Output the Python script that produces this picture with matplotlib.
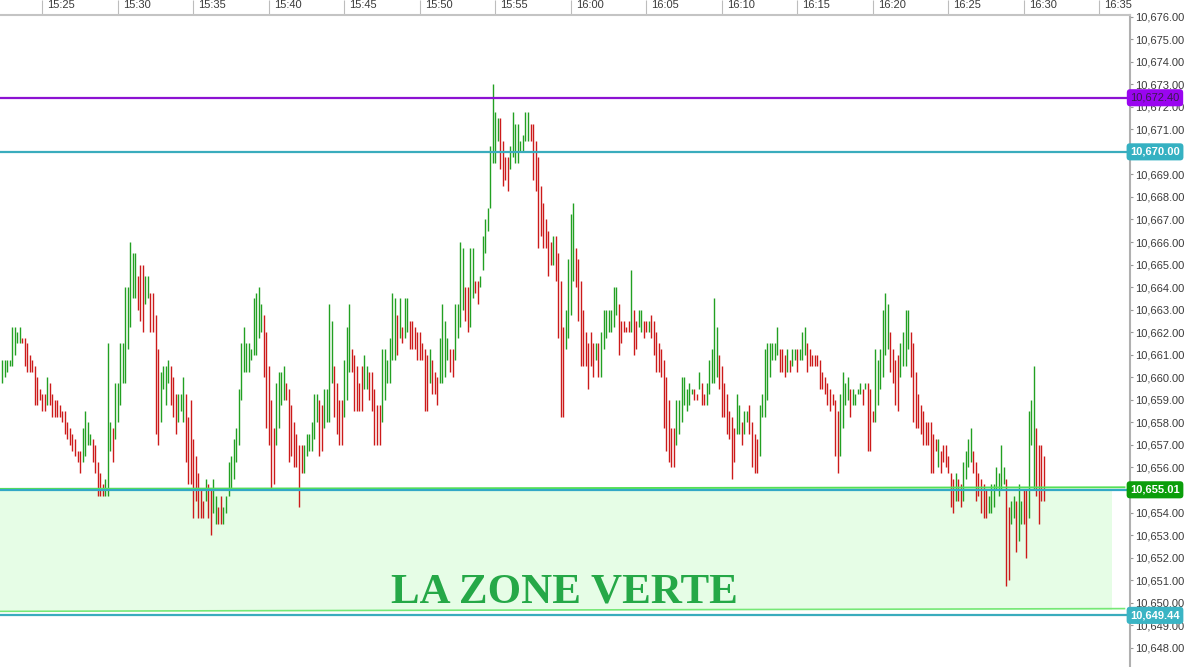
import matplotlib
matplotlib.use("Agg")
import matplotlib.pyplot as plt
from matplotlib.patches import Rectangle
import numpy as np

# 10-second bars, first bar at 15:22:20
first_bar = "15:22:20"
bar_seconds = 10

high_a = [10660.75, 10660.75, 10660.75, 10660.75, 10662.25, 10662.25, 10662.0, 10662.25, 10661.75, 10661.75,
          10661.5, 10661.0, 10660.75, 10660.5, 10660.0, 10659.5, 10659.25, 10659.25, 10660.0, 10659.75,
          10659.25, 10659.0, 10659.0, 10658.75, 10658.5, 10658.5, 10658.0, 10657.75, 10657.5, 10657.25,
          10656.75, 10656.75, 10657.75, 10658.5, 10658.0, 10657.5, 10657.25, 10657.0, 10656.25, 10655.75,
          10655.25, 10655.5, 10661.5, 10658.0, 10657.75, 10659.75, 10659.75, 10661.5, 10661.5, 10664.0,
          10664.0, 10666.0, 10665.5, 10665.5, 10664.5, 10665.0, 10665.0, 10664.5, 10664.5, 10663.75,
          10663.75, 10662.75, 10661.25, 10660.25, 10660.5, 10660.5, 10660.75, 10660.5, 10660.0, 10659.25,
          10659.25, 10659.25, 10660.0, 10659.25, 10658.25, 10659.0, 10657.25, 10656.5, 10655.75, 10655.0,
          10654.5, 10655.5, 10655.25, 10655.0, 10655.5, 10654.75, 10654.25, 10654.75, 10654.25, 10654.75,
          10656.25, 10656.5, 10657.25, 10657.75, 10659.5, 10661.5, 10662.25, 10661.5, 10661.5, 10661.25,
          10663.5]
low_a = [10659.75, 10660.0, 10660.25, 10660.5, 10660.5, 10661.0, 10661.5, 10661.5, 10661.5, 10660.5,
         10660.25, 10660.25, 10660.25, 10658.75, 10658.75, 10659.0, 10658.5, 10658.5, 10658.75, 10658.75,
         10658.25, 10658.25, 10658.25, 10658.25, 10658.0, 10657.5, 10657.25, 10657.0, 10656.75, 10656.5,
         10656.25, 10655.75, 10656.25, 10656.5, 10657.0, 10657.0, 10656.25, 10655.75, 10654.75, 10654.75,
         10654.75, 10654.75, 10654.75, 10656.75, 10656.25, 10657.25, 10658.0, 10658.75, 10659.75, 10659.75,
         10661.25, 10662.25, 10663.5, 10663.5, 10663.0, 10662.5, 10662.0, 10663.25, 10663.5, 10662.0,
         10662.0, 10657.5, 10657.0, 10658.0, 10659.5, 10658.75, 10659.75, 10658.75, 10658.25, 10657.5,
         10658.0, 10658.5, 10658.0, 10656.25, 10655.25, 10655.25, 10653.75, 10654.5, 10653.75, 10653.75,
         10653.75, 10654.5, 10653.75, 10653.0, 10654.0, 10653.5, 10653.5, 10653.5, 10653.5, 10654.0,
         10654.75, 10655.0, 10655.5, 10656.25, 10657.0, 10659.0, 10660.25, 10660.25, 10660.25, 10660.75,
         10661.0]
dir_a = ("gggggggg" "rrrrrrrrrr" "g" "rrrrrrrrrrrrr" "gggg" "rrrrr" "ggg" "r" "ggggggggg" "rrr"
         "gg" "rrrr" "gggg" "rrr" "ggg" "rrrrrrrr" "g" "rr" "gg" "rr" "ggggggggggggg")

high_b = [10663.75, 10664.0, 10663.25, 10662.75, 10662.0, 10660.5, 10659.0, 10657.75, 10659.75, 10660.25,
          10660.25, 10660.5, 10659.75, 10659.5, 10658.75, 10658.0, 10657.5, 10657.0, 10657.0, 10657.0,
          10657.5, 10657.5, 10658.0, 10659.25, 10659.25, 10659.0, 10658.75, 10659.5, 10659.5, 10663.25,
          10662.5, 10660.5, 10659.75, 10659.0, 10659.0, 10660.75, 10662.25, 10663.25, 10661.25, 10661.0,
          10660.5, 10659.75, 10660.5, 10661.0, 10660.5, 10660.25, 10660.25, 10659.5, 10658.75, 10658.75,
          10661.25, 10661.25, 10660.75, 10661.75, 10663.75, 10663.5, 10662.75, 10663.5, 10662.25, 10663.5,
          10663.5, 10662.5, 10662.5, 10662.25, 10662.0, 10662.0, 10661.5, 10661.25, 10661.0, 10661.25,
          10660.75, 10660.25, 10660.0, 10661.75, 10663.25, 10662.5, 10661.75, 10661.25, 10661.25, 10663.25,
          10663.25, 10666.0, 10665.75, 10664.0, 10664.0, 10665.75, 10665.75, 10664.25, 10664.25, 10664.5,
          10666.25, 10667.0, 10667.5, 10670.25, 10673.0]
low_b = [10661.0, 10661.75, 10662.0, 10660.0, 10657.75, 10657.0, 10655.0, 10655.25, 10657.0, 10657.75,
         10658.75, 10659.0, 10659.0, 10656.25, 10656.5, 10656.0, 10656.0, 10654.25, 10655.75, 10655.75,
         10656.5, 10656.75, 10656.75, 10657.25, 10658.0, 10656.5, 10656.75, 10657.75, 10658.0, 10658.0,
         10659.75, 10658.25, 10657.5, 10657.0, 10657.0, 10658.25, 10659.0, 10660.25, 10660.25, 10658.5,
         10658.5, 10658.5, 10658.5, 10659.5, 10659.5, 10659.0, 10658.5, 10657.0, 10657.0, 10657.0,
         10658.0, 10659.0, 10659.75, 10659.75, 10660.75, 10660.75, 10661.0, 10661.75, 10661.5, 10661.75,
         10662.0, 10661.25, 10661.25, 10661.25, 10660.75, 10660.75, 10660.75, 10658.5, 10658.5, 10659.75,
         10659.25, 10659.25, 10658.75, 10659.75, 10659.75, 10660.0, 10660.75, 10660.25, 10660.0, 10660.75,
         10661.75, 10662.25, 10663.0, 10662.5, 10662.0, 10662.25, 10663.5, 10663.75, 10663.25, 10664.0,
         10664.75, 10665.5, 10666.5, 10667.5, 10669.5]
dir_b = ("ggg" "rrrrr" "gggg" "rrrrrrr" "gggggg" "rr" "gggg" "rrrr" "ggg" "rrrrr" "gg" "rrrrr"
         "gggggg" "r" "g" "r" "gg" "rrrrrrrr" "g" "rrr" "gggg" "rr" "gggg" "rr" "gg" "rr" "gggggg")

high_c = [10671.75, 10671.5, 10671.5, 10670.5, 10669.75, 10669.75, 10670.25, 10671.75, 10671.25, 10671.25,
          10670.5, 10670.75, 10671.75, 10671.75, 10671.25, 10671.25]
low_c = [10669.5, 10670.5, 10669.25, 10668.5, 10668.75, 10668.25, 10669.25, 10669.75, 10669.5, 10669.5,
         10670.0, 10670.0, 10670.5, 10670.5, 10670.5, 10668.75]
dir_c = "gg" "rrrr" "gggggggg" "rr"

high_d = [10670.5, 10669.75, 10668.5, 10667.75, 10667.0, 10666.5, 10666.0, 10666.25, 10666.25, 10665.5,
          10664.25, 10662.25, 10663.0, 10665.25, 10667.25, 10667.75, 10665.75, 10665.25, 10664.25, 10663.0,
          10662.0, 10661.5, 10662.0, 10661.5, 10661.5, 10661.5, 10662.0, 10663.0, 10663.0, 10663.0,
          10663.0, 10664.0, 10664.0, 10663.25, 10662.5, 10662.5, 10662.25, 10662.5, 10664.75, 10663.0,
          10662.5, 10663.0, 10663.0, 10662.5, 10662.5, 10662.5, 10662.75, 10662.5, 10662.0, 10661.5,
          10661.25, 10660.75, 10660.0, 10659.0, 10657.75, 10657.75, 10659.0, 10659.0, 10660.0, 10660.0,
          10659.5, 10659.75, 10659.5, 10659.5, 10659.25, 10660.25, 10659.75, 10659.25, 10659.75, 10660.75,
          10661.25, 10663.5, 10662.25, 10661.0, 10660.5, 10659.75, 10659.25, 10658.5, 10658.25, 10657.75,
          10659.25, 10658.75, 10658.0, 10658.5, 10658.5, 10658.75, 10658.0, 10657.5, 10657.25, 10658.75,
          10659.25, 10661.25, 10661.5, 10661.5, 10661.5, 10661.5, 10662.25, 10661.25]
low_d = [10668.25, 10665.75, 10666.25, 10665.75, 10665.75, 10664.5, 10665.0, 10665.0, 10664.25, 10661.75,
         10658.25, 10658.25, 10661.25, 10661.75, 10662.75, 10664.25, 10664.0, 10662.5, 10660.5, 10660.5,
         10660.5, 10659.5, 10660.5, 10660.0, 10660.75, 10660.0, 10660.0, 10661.25, 10661.75, 10662.0,
         10662.0, 10662.25, 10662.75, 10661.0, 10661.5, 10662.0, 10662.0, 10662.0, 10662.0, 10661.0,
         10661.25, 10662.25, 10662.0, 10661.75, 10662.0, 10662.0, 10661.75, 10661.0, 10660.25, 10660.25,
         10660.0, 10657.75, 10656.75, 10656.25, 10656.0, 10656.0, 10657.0, 10657.5, 10658.0, 10658.75,
         10658.5, 10658.75, 10659.25, 10659.0, 10659.0, 10659.5, 10658.75, 10658.75, 10658.75, 10659.25,
         10659.75, 10659.75, 10660.0, 10659.5, 10658.25, 10658.25, 10657.5, 10657.25, 10655.5, 10656.25,
         10657.5, 10657.5, 10657.0, 10657.5, 10658.0, 10657.5, 10656.0, 10655.75, 10655.75, 10656.5,
         10658.25, 10658.25, 10659.0, 10660.0, 10660.75, 10660.75, 10661.0, 10660.25]
dir_d = ("rrrrrrr" "g" "rrrr" "gggg" "rrrrrrrr" "g" "r" "ggggggg" "rrrrr" "g" "rr" "gg" "rr" "g"
         "rrrrrrrrrr" "ggggggg" "rr" "g" "rr" "ggggg" "rrrrrrr" "gg" "r" "gg" "rrrr" "gggggggg" "r")

high_e = [10661.25, 10661.0, 10661.25, 10660.75, 10661.25, 10661.25, 10661.25, 10661.25, 10662.0, 10662.25,
          10661.5, 10661.25, 10661.0, 10661.0, 10661.0, 10660.75, 10660.25, 10660.0, 10659.75, 10659.5,
          10659.25, 10659.0, 10658.5, 10659.25, 10660.25, 10659.75, 10660.0, 10659.5, 10659.5, 10659.25,
          10659.5, 10659.75, 10659.5, 10659.75, 10659.75, 10659.5, 10658.5, 10661.25, 10660.75, 10661.25,
          10663.0, 10663.75, 10663.25, 10662.0, 10661.25, 10660.75, 10661.0, 10661.5, 10662.0, 10663.0,
          10663.0, 10662.0, 10661.5, 10660.25, 10659.25, 10658.75, 10658.5, 10658.0, 10658.0, 10658.0,
          10657.5, 10657.25, 10657.25, 10656.75, 10657.0, 10657.0, 10656.5, 10655.75, 10655.5, 10655.75,
          10655.5, 10655.25, 10656.25, 10656.75, 10657.25, 10657.75, 10656.75, 10656.25, 10655.75, 10655.5,
          10655.25, 10655.0, 10654.75, 10655.25, 10655.25, 10656.0, 10655.75, 10657.0, 10656.0, 10655.5,
          10654.25, 10654.5, 10654.75, 10654.5, 10655.25, 10654.5, 10655.0, 10655.0, 10658.5, 10659.0,
          10660.5, 10657.75, 10657.0, 10657.0, 10656.5]
low_e = [10660.25, 10660.0, 10660.25, 10660.25, 10660.5, 10660.75, 10660.25, 10660.75, 10660.75, 10661.0,
         10660.25, 10660.5, 10660.5, 10660.5, 10660.5, 10659.5, 10659.5, 10659.25, 10658.75, 10658.5,
         10658.75, 10656.5, 10655.75, 10656.5, 10657.75, 10658.75, 10659.0, 10658.25, 10658.75, 10658.75,
         10659.25, 10659.25, 10658.75, 10659.5, 10656.75, 10656.75, 10658.0, 10658.0, 10658.75, 10659.5,
         10660.0, 10661.0, 10661.25, 10660.25, 10659.75, 10658.75, 10658.5, 10660.0, 10660.5, 10660.5,
         10661.25, 10660.0, 10658.0, 10657.75, 10657.75, 10657.5, 10657.0, 10657.0, 10657.0, 10655.75,
         10655.75, 10656.75, 10656.0, 10655.75, 10656.25, 10656.0, 10655.75, 10654.25, 10654.0, 10654.5,
         10654.5, 10654.25, 10654.5, 10655.5, 10656.0, 10656.25, 10655.75, 10654.5, 10654.75, 10654.0,
         10653.75, 10653.75, 10654.0, 10654.0, 10654.25, 10655.0, 10654.75, 10655.0, 10655.25, 10650.75,
         10651.0, 10653.5, 10653.75, 10652.25, 10652.75, 10653.5, 10653.5, 10652.0, 10653.75, 10657.0,
         10655.0, 10654.75, 10653.5, 10654.5, 10654.5]
dir_e = ("rrgrggrggg" "rrrrrrrrrrrrr" "gggg" "r" "gggg" "r" "g" "rrr" "gggggg" "rrrr" "gggg"
         "rrrrrrrrrrr" "g" "rrrrrr" "g" "rr" "gggg" "rrrrrr" "ggggggg" "rr" "gg" "r" "gg" "rr" "ggg" "rrrr")

# horizontal levels drawn on the chart
level_top = 10672.40
level_res = 10670.00
level_zone_hi = 10655.01
level_zone_lo = 10649.44
zone_label = "LA ZONE VERTE"

time_ticks = ["15:25", "15:30", "15:35", "15:40", "15:45", "15:50", "15:55", "16:00",
              "16:05", "16:10", "16:15", "16:20", "16:25", "16:30", "16:35"]
price_ticks = list(range(10648, 10677))

high = np.array(high_a + high_b + high_c + high_d + high_e)
low = np.array(low_a + low_b + low_c + low_d + low_e)
dirs = dir_a + dir_b + dir_c + dir_d + dir_e
n = min(len(high), len(low), len(dirs))
high, low, dirs = high[:n], low[:n], dirs[:n]


def to_min(s):
    p = [int(v) for v in s.split(":")]
    return p[0] * 60 + p[1] + (p[2] / 60 if len(p) > 2 else 0)


t = to_min(first_bar) + np.arange(n) * bar_seconds / 60.0

plt.rcParams['font.family'] = ['Liberation Sans', 'DejaVu Sans']

fig = plt.figure(figsize=(11.85, 6.67), dpi=100)
ax = fig.add_axes([0, 0, 1130 / 1185, 652 / 667])
x0, x1 = to_min("15:22:12"), to_min("16:37:02")
ax.set_xlim(x0, x1)
ax.set_ylim(10647.15, 10676.07)

# green zone
zone_end = to_min("16:35:50")
ax.add_patch(Rectangle((x0, 10649.68), zone_end - x0, 10655.03 - 10649.68,
                       facecolor='#e6fde6', edgecolor='none', zorder=0))
ax.plot([x0, to_min("16:36:40")], [10649.62, 10649.74], color='#76e876', lw=1.2, zorder=1)
ax.plot([x0, to_min("16:36:40")], [10655.05, 10655.12], color='#55e055', lw=1.4, zorder=3)

# bars
cols = ['#22a022' if d == 'g' else '#cc1a1a' for d in dirs]
ax.vlines(t, low, high, colors=cols, lw=1.0, zorder=2)

# levels
ax.axhline(level_top, color='#8c12d2', lw=1.6, zorder=4)
ax.axhline(level_res, color='#3aacbd', lw=1.6, zorder=4)
ax.axhline(level_zone_hi, color='#32a8c6', lw=1.6, zorder=4)
ax.axhline(level_zone_lo, color='#3aacbd', lw=1.6, zorder=4)

ax.text(to_min("15:59:36"), 10650.0, zone_label, ha='center', va='baseline',
        fontsize=31, fontweight='bold', family='Liberation Serif', color='#25a847', zorder=5)


def price_tag(y, bg, fg, bold):
    ax.annotate(f"{y:,.2f}", xy=(1.0, y), xycoords=('axes fraction', 'data'),
                xytext=(25, 0), textcoords='offset pixels', ha='center', va='center',
                fontsize=8, fontweight='bold' if bold else 'normal', color=fg,
                bbox=dict(boxstyle='round,pad=0.32,rounding_size=0.3', fc=bg, ec='none'),
                annotation_clip=False, zorder=10)


price_tag(level_top, '#9a05f0', '#3a1a50', False)
price_tag(level_res, '#35b1c2', 'white', True)
price_tag(level_zone_hi, '#0b9e0b', 'white', True)
price_tag(level_zone_lo, '#3ab4c4', 'white', True)

# axes styling
for s in ['left', 'bottom']:
    ax.spines[s].set_visible(False)
ax.spines['right'].set_color('#b0b0b0')
ax.spines['right'].set_linewidth(1.5)
ax.spines['top'].set_color('#c4c4c4')
ax.spines['top'].set_linewidth(1.5)

tick_pos = [to_min(s) for s in time_ticks]
ax.xaxis.tick_top()
ax.set_xticks(tick_pos)
ax.set_xticklabels([])
ax.tick_params(axis='x', direction='out', length=10.8, width=0.8, color='#bdbdbd')
for tp, lab in zip(tick_pos, time_ticks):
    ax.annotate(lab, xy=(tp, 1.0), xycoords=('data', 'axes fraction'), xytext=(5, 10),
                textcoords='offset pixels', ha='left', va='center', fontsize=8,
                color='#3a3a3a', annotation_clip=False)

# the 10,670 and 10,655 labels sit under the level tags
hidden = {10670, 10655}
ax.yaxis.tick_right()
ax.set_yticks(price_ticks)
ax.set_yticklabels(["" if p in hidden else f"{p:,.2f}" for p in price_ticks])
ax.tick_params(axis='y', direction='out', length=2.5, width=0.8, color='#999999',
               pad=1, labelsize=8, labelcolor='#3a3a3a')

fig.savefig("out.png", dpi=100)
